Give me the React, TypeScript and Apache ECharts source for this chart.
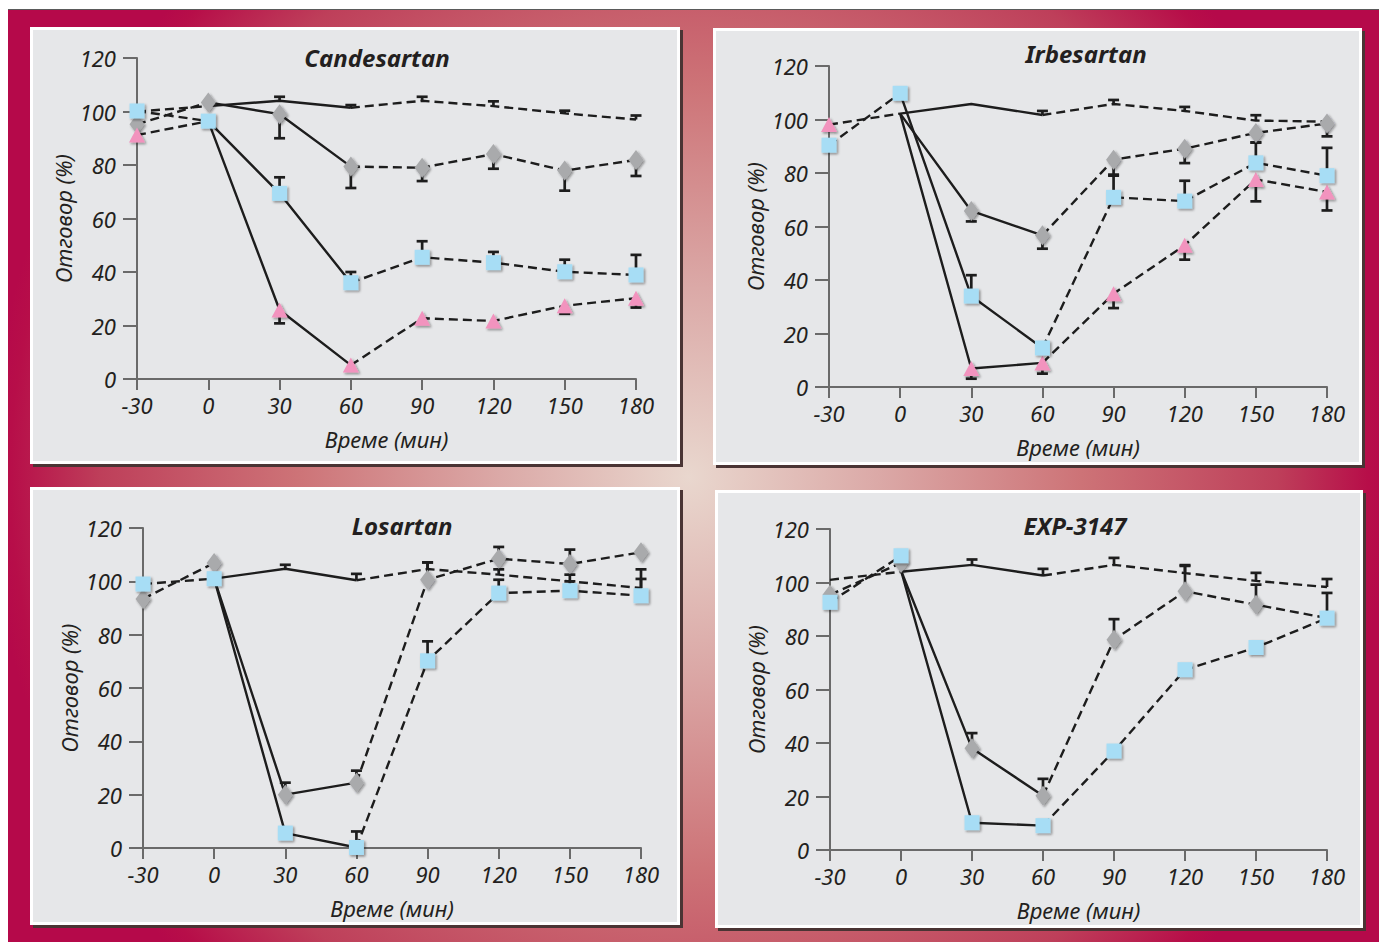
import React, { useEffect, useRef } from "react";
import * as echarts from "echarts";

// ---------- shared axis data ----------
const TIME = [-30, 0, 30, 60, 90, 120, 150, 180];
const X_MIN = -30;
const X_MAX = 180;
const X_STEP = 30;
const Y_MIN = 0;
const Y_MAX = 120;
const Y_STEP = 20;
const X_NAME = "Време (мин)";
const Y_NAME = "Отговор (%)";
const TITLES = ["Candesartan", "Irbesartan", "Losartan", "EXP-3147"];

// ---------- Candesartan ----------
const candControl = [100, 102, 104, 101.4, 104, 102, 99.3, 97];
const candControlErr = [null, null, 1.5, 1, 1.5, 1.8, 1, 1.5];
const candSquare = [100.2, 96.4, 69.4, 36, 45.5, 43.5, 40.1, 38.9];
const candSquareErr = [null, null, 6, 4, 6, 4, 4.5, 7.5];
const candDiamond = [95.2, 103.4, 99, 79.4, 79, 84.1, 77.9, 81.9];
const candDiamondErr = [null, null, -9, -8, -5, -5.5, -7.5, -6];
const candTriangle = [91.2, 96.4, 25.8, 5.2, 22.7, 21.7, 27.4, 30.2];
const candTriangleErr = [null, null, -5, null, null, null, -3, -3.5];

// ---------- Irbesartan ----------
const irbControl = [null, 102.2, 105.8, 101.7, 105.8, 103.2, 99.6, 99.2];
const irbControlErr = [null, null, null, 1.5, 1.5, 1.5, 2, null];
const irbSquare = [90.4, 109.8, 34, 14.6, 70.9, 69.5, 83.8, 79];
const irbSquareErr = [null, null, 7.8, null, 8.5, 7.6, 7.6, 10.4];
const irbDiamond = [null, 102.2, 65.8, 56.7, 85, 89.1, 95, 98.5];
const irbDiamondErr = [null, null, -3.9, -5, -6, -5.4, -3.6, -4.8];
const irbTriangle = [98.1, 102.2, 6.9, 9, 34.9, 53, 77.6, 72.9];
const irbTriangleErr = [null, null, -3.8, -4, -5.4, -5.4, -8.2, -6.9];

// ---------- Losartan ----------
const losControl = [null, 101, 104.7, 100.4, 104.6, 102.5, 100, 97.5];
const losControlErr = [null, null, 1.5, 2.4, 2.5, 2, 2.5, 7];
const losSquare = [99, 101, 5.6, 0.2, 70.2, 95.6, 96.5, 94.6];
const losSquareErr = [null, null, null, 6, 7.3, 5, 3.5, 6.3];
const losDiamond = [93.4, 106.9, 20, 24.5, 100.6, 108.5, 106.5, 110.9];
const losDiamondErr = [null, null, 4.5, 4.5, 6.5, 4.4, 5.4, null];
const losDiamondStart = 101;

// ---------- EXP-3147 ----------
const expControl = [101, 104, 106.6, 102.6, 106.6, 103.5, 100.6, 98.3];
const expControlErr = [null, null, 2, 2.5, 2.6, 3, 3, 3];
const expDiamond = [95.4, 107.3, 38, 20.3, 78.6, 96.7, 91.7, 86.7];
const expDiamondErr = [null, null, 5.7, 6.3, 7.7, 9.5, 7.5, 9.4];
const expSquare = [92.6, 110, 10.2, 9.1, 37, 67.4, 75.7, 86.7];
const expSolidStart = 104.5;

type Line = {
  kind: "control" | "square" | "diamond" | "triangle";
  values: (number | null)[];
  err?: (number | null)[];
  start?: number;
  hidden?: number[];
};

const PANELS: Line[][] = [
  [
    { kind: "control", values: candControl, err: candControlErr },
    { kind: "diamond", values: candDiamond, err: candDiamondErr },
    { kind: "triangle", values: candTriangle, err: candTriangleErr, hidden: [0] },
    { kind: "square", values: candSquare, err: candSquareErr },
  ],
  [
    { kind: "control", values: irbControl, err: irbControlErr },
    { kind: "diamond", values: irbDiamond, err: irbDiamondErr, hidden: [0] },
    { kind: "triangle", values: irbTriangle, err: irbTriangleErr, hidden: [0] },
    { kind: "square", values: irbSquare, err: irbSquareErr },
  ],
  [
    { kind: "control", values: losControl, err: losControlErr },
    { kind: "diamond", values: losDiamond, err: losDiamondErr, start: losDiamondStart },
    { kind: "square", values: losSquare, err: losSquareErr },
  ],
  [
    { kind: "control", values: expControl, err: expControlErr },
    { kind: "square", values: expSquare, start: expSolidStart },
    { kind: "diamond", values: expDiamond, err: expDiamondErr, start: expSolidStart, hidden: [180] },
  ],
];

// ---------- layout / style ----------
const FONT = '"Noto Sans", "DejaVu Sans", sans-serif';
const INK = "#1d1d1d";
const AXIS = "#6a6a6a";
const GRIDS = [
  { left: 137, top: 58, width: 499, height: 321 },
  { left: 829, top: 66, width: 498, height: 321 },
  { left: 143, top: 528, width: 498, height: 320 },
  { left: 830, top: 529, width: 497, height: 321 },
];
const BOXES = [
  { x: 30, y: 27, w: 650, h: 437 },
  { x: 713, y: 28, w: 649, h: 437 },
  { x: 30, y: 487, w: 650, h: 438 },
  { x: 715, y: 490, w: 648, h: 438 },
];
const TITLE_POS = [
  [377, 57],
  [1086, 53],
  [402, 525],
  [1075, 525],
];
const MARKER: Record<string, any> = {
  square: { symbol: "rect", size: 15, color: "#A7DDF5", z: 7 },
  diamond: { symbol: "diamond", size: [15, 20], color: "#A9AAAC", z: 5 },
  triangle: { symbol: "triangle", size: [16, 15], color: "#F293BE", z: 6 },
};

function buildOption() {
  const grid: any[] = [];
  const xAxis: any[] = [];
  const yAxis: any[] = [];
  const series: any[] = [];
  const graphic: any[] = [];

  graphic.push({
    type: "rect",
    z: -20,
    silent: true,
    shape: { x: 8, y: 10, width: 1371, height: 932 },
    style: {
      fill: new echarts.graphic.RadialGradient(
        689,
        477,
        700,
        [
          { offset: 0, color: "#E9D7CE" },
          { offset: 0.27, color: "#DBA9A7" },
          { offset: 0.56, color: "#CD7377" },
          { offset: 0.84, color: "#BE3F5A" },
          { offset: 0.97, color: "#B70E49" },
          { offset: 1, color: "#B5094A" },
        ],
        true
      ),
    },
  });
  graphic.push({
    type: "line",
    z: -19,
    silent: true,
    shape: { x1: 8, y1: 9.5, x2: 1379, y2: 9.5 },
    style: { stroke: "#5a5a5a", lineWidth: 1 },
  });

  BOXES.forEach((b) => {
    graphic.push({
      type: "rect",
      z: -18,
      silent: true,
      shape: { x: b.x + 3, y: b.y + 3, width: b.w, height: b.h },
      style: { fill: "#4a3434" },
    });
    graphic.push({
      type: "rect",
      z: -17,
      silent: true,
      shape: { x: b.x, y: b.y, width: b.w, height: b.h },
      style: { fill: "#ffffff" },
    });
    graphic.push({
      type: "rect",
      z: -16,
      silent: true,
      shape: { x: b.x + 3, y: b.y + 3, width: b.w - 6, height: b.h - 6 },
      style: { fill: "#E6E7E9" },
    });
  });

  TITLES.forEach((t, i) => {
    graphic.push({
      type: "text",
      z: 50,
      silent: true,
      x: TITLE_POS[i][0],
      y: TITLE_POS[i][1],
      style: {
        text: t,
        fill: "#231f20",
        font: `italic bold 24px ${FONT}`,
        textAlign: "center",
        textVerticalAlign: "middle",
      },
    });
  });

  const labelStyle = {
    color: "#231f20",
    fontFamily: FONT,
    fontStyle: "italic",
    fontSize: 22,
  };

  PANELS.forEach((lines, i) => {
    grid.push({ ...GRIDS[i], containLabel: false });
    xAxis.push({
      type: "value",
      gridIndex: i,
      min: X_MIN,
      max: X_MAX,
      interval: X_STEP,
      name: X_NAME,
      nameLocation: "middle",
      nameGap: 49,
      nameTextStyle: { ...labelStyle },
      axisLine: { show: true, onZero: false, lineStyle: { color: AXIS, width: 2 } },
      axisTick: { show: true, length: 11, lineStyle: { color: AXIS, width: 2 } },
      axisLabel: { ...labelStyle, margin: 15, showMinLabel: true, showMaxLabel: true },
      splitLine: { show: false },
    });
    yAxis.push({
      type: "value",
      gridIndex: i,
      min: Y_MIN,
      max: Y_MAX,
      interval: Y_STEP,
      name: Y_NAME,
      nameLocation: "middle",
      nameGap: 63,
      nameTextStyle: { ...labelStyle },
      axisLine: { show: true, onZero: false, lineStyle: { color: AXIS, width: 2 } },
      axisTick: { show: true, length: 14, lineStyle: { color: AXIS, width: 2 } },
      axisLabel: { ...labelStyle, margin: 21 },
      splitLine: { show: false },
    });

    lines.forEach((ln) => {
      const v = ln.values;
      const val = (k: number) => (v[k] == null ? "-" : v[k]);
      const dashedData = TIME.map((t, k) => (k === 2 ? [t, "-"] : [t, val(k)]));
      const solidData = [
        [TIME[1], ln.start != null ? ln.start : val(1)],
        [TIME[2], val(2)],
        [TIME[3], val(3)],
      ];
      const common = {
        type: "line",
        xAxisIndex: i,
        yAxisIndex: i,
        symbol: "none",
        silent: true,
        z: 3,
        connectNulls: false,
      };
      series.push({
        ...common,
        name: `${TITLES[i]}-${ln.kind}-dashed`,
        data: dashedData,
        lineStyle: { color: INK, width: 2.4, type: [9, 5] },
      });
      series.push({
        ...common,
        name: `${TITLES[i]}-${ln.kind}-solid`,
        data: solidData,
        lineStyle: { color: INK, width: 2.4, type: "solid" },
      });

      if (ln.err) {
        const errData = TIME.map((t, k) =>
          ln.err![k] != null && v[k] != null ? [t, v[k], ln.err![k]] : null
        ).filter((d) => d !== null);
        series.push({
          type: "custom",
          name: `${TITLES[i]}-${ln.kind}-err`,
          xAxisIndex: i,
          yAxisIndex: i,
          silent: true,
          z: 4,
          encode: { x: 0, y: 1 },
          data: errData,
          renderItem: (params: any, api: any) => {
            const x = api.value(0);
            const y = api.value(1);
            const e = api.value(2);
            const p0 = api.coord([x, y]);
            const p1 = api.coord([x, y + e]);
            const st = { stroke: INK, lineWidth: 2.7 };
            return {
              type: "group",
              children: [
                { type: "line", shape: { x1: p0[0], y1: p0[1], x2: p1[0], y2: p1[1] }, style: st },
                { type: "line", shape: { x1: p1[0] - 5.5, y1: p1[1], x2: p1[0] + 5.5, y2: p1[1] }, style: st },
              ],
            };
          },
        });
      }

      if (ln.kind !== "control") {
        const m = MARKER[ln.kind];
        const hidden = ln.hidden || [];
        const markerData = TIME.map((t, k) => [t, v[k]]).filter(
          (d, k) => v[k] != null && !hidden.includes(TIME[k])
        );
        series.push({
          type: "scatter",
          name: `${TITLES[i]}-${ln.kind}`,
          xAxisIndex: i,
          yAxisIndex: i,
          silent: true,
          z: m.z,
          symbol: m.symbol,
          symbolSize: m.size,
          data: markerData,
          itemStyle: {
            color: m.color,
            opacity: 1,
            shadowColor: "rgba(20,20,20,0.45)",
            shadowBlur: 2,
            shadowOffsetX: 1.5,
            shadowOffsetY: 1.5,
          },
        });
      }
    });
  });

  return {
    animation: false,
    backgroundColor: "transparent",
    textStyle: { fontFamily: FONT },
    grid,
    xAxis,
    yAxis,
    series,
    graphic: { elements: graphic },
  };
}

export default function App() {
  const ref = useRef<HTMLDivElement | null>(null);
  useEffect(() => {
    if (!ref.current) return;
    const chart = echarts.init(ref.current, null, { renderer: "svg" });
    chart.setOption(buildOption() as any);
    return () => chart.dispose();
  }, []);
  return (
    <div
      ref={ref}
      style={{ position: "absolute", left: 0, top: 0, width: 1379, height: 942 }}
    />
  );
}
